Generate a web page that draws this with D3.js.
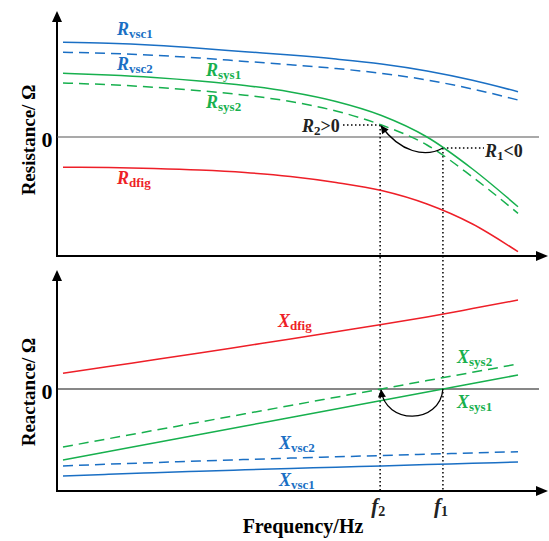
<!DOCTYPE html>
<html>
<head>
<meta charset="utf-8">
<script src="https://cdn.jsdelivr.net/npm/d3@7"></script>
<style>
  html, body { margin: 0; padding: 0; background: #fff; }
  svg { display: block; }
  text { font-family: "Liberation Serif", "Times New Roman", serif; font-weight: bold; }
</style>
</head>
<body>
<svg id="chart" width="549" height="541"></svg>
<script>
// ---------------- data ----------------
const freq = [0, 10, 20, 30, 40, 50, 60, 70, 80, 90, 100];

// Resistance (top panel)
const Rvsc1 = [9.47, 9.37, 9.17, 8.88, 8.53, 8.19, 7.79, 7.30, 6.60, 5.67, 4.53];
const Rvsc2 = [8.47, 8.37, 8.18, 7.90, 7.56, 7.23, 6.85, 6.37, 5.70, 4.80, 3.70];
const Rsys1 = [6.37, 6.20, 5.95, 5.60, 5.15, 4.50, 3.55, 2.15, 0.00, -3.20, -6.97];
const Rsys2 = [5.40, 5.23, 4.98, 4.63, 4.18, 3.55, 2.60, 1.20, -0.80, -4.00, -7.63];
const Rdfig = [-3.03, -3.06, -3.15, -3.30, -3.55, -3.95, -4.55, -5.35, -6.70, -8.70, -11.47];

// Reactance (bottom panel)
const Xdfig = [1.57, 2.25, 2.92, 3.60, 4.30, 5.00, 5.72, 6.44, 7.20, 8.04, 8.90];
const Xsys2 = [-5.80, -4.97, -4.14, -3.31, -2.48, -1.65, -0.82, 0.01, 0.84, 1.67, 2.50];
const Xsys1 = [-7.10, -6.25, -5.40, -4.55, -3.70, -2.85, -2.00, -1.15, -0.30, 0.55, 1.40];
const Xvsc2 = [-7.70, -7.52, -7.36, -7.20, -7.05, -6.91, -6.78, -6.65, -6.52, -6.40, -6.27];
const Xvsc1 = [-8.70, -8.53, -8.37, -8.22, -8.08, -7.95, -7.82, -7.69, -7.56, -7.43, -7.30];

// resonance markers
const markerNames = ["f2", "f1"];
const markerFreq = [69.7, 83.5];
const markerR = [1.2, -1.1];          // R2 > 0 , R1 < 0

const zeroTick = ["0"];

// ---------------- styles ----------------
const BLUE = "#1a6fc4", GREEN = "#17b04e", RED = "#ee1f28";

const svg = d3.select("#chart");

const x = d3.scaleLinear().domain([0, 100]).range([63, 518]);
const yR = d3.scaleLinear().domain([0, 10]).range([137, 37]);
const yX = d3.scaleLinear().domain([0, 10]).range([389, 289]);

// arrow markers
const defs = svg.append("defs");
defs.append("marker").attr("id", "ah")
  .attr("viewBox", "0 0 10 10").attr("refX", 9).attr("refY", 5)
  .attr("markerWidth", 10).attr("markerHeight", 8).attr("markerUnits", "userSpaceOnUse")
  .attr("orient", "auto")
  .append("path").attr("d", "M0,0 L10,5 L0,10 Z").attr("fill", "#000");

// -------- axes frames --------
function frame(top, bottom) {
  const g = svg.append("g");
  const axX = 57;
  g.append("line").attr("x1", axX).attr("y1", bottom).attr("x2", axX).attr("y2", top + 8)
    .attr("stroke", "#000").attr("stroke-width", 2);
  g.append("path").attr("d", `M${axX},${top} L${axX - 5},${top + 11} L${axX + 5},${top + 11} Z`).attr("fill", "#000");
  g.append("line").attr("x1", axX - 1).attr("y1", bottom).attr("x2", 540).attr("y2", bottom)
    .attr("stroke", "#000").attr("stroke-width", 2);
  g.append("path").attr("d", `M548,${bottom} L536,${bottom - 5} L536,${bottom + 5} Z`).attr("fill", "#000");
}
frame(11, 256);
frame(270, 491);

// zero lines
svg.append("line").attr("x1", 57).attr("x2", 539).attr("y1", yR(0)).attr("y2", yR(0))
  .attr("stroke", "#555").attr("stroke-width", 1.2);
svg.append("line").attr("x1", 57).attr("x2", 539).attr("y1", yX(0)).attr("y2", yX(0))
  .attr("stroke", "#111").attr("stroke-width", 1.2);

// zero tick labels
svg.append("text").attr("x", 47).attr("y", yR(0) + 10).attr("text-anchor", "middle")
  .attr("font-size", 22).text(zeroTick[0]);
svg.append("text").attr("x", 47).attr("y", yX(0) + 10).attr("text-anchor", "middle")
  .attr("font-size", 22).text(zeroTick[0]);

// axis titles
svg.append("text").attr("transform", `translate(35,${140}) rotate(-90)`).attr("text-anchor", "middle")
  .attr("font-size", 19).text("Resistance/ Ω");
svg.append("text").attr("transform", `translate(35,${392}) rotate(-90)`).attr("text-anchor", "middle")
  .attr("font-size", 19).text("Reactance/ Ω");
svg.append("text").attr("x", 303).attr("y", 533).attr("text-anchor", "middle")
  .attr("font-size", 20).text("Frequency/Hz");

// -------- dotted guides --------
const dot = { stroke: "#000", "stroke-width": 1.5, "stroke-dasharray": "1.5,2.5" };
function dline(x1, y1, x2, y2) {
  const l = svg.append("line").attr("x1", x1).attr("y1", y1).attr("x2", x2).attr("y2", y2);
  Object.entries(dot).forEach(([k, v]) => l.attr(k, v));
}
markerFreq.forEach((f, i) => dline(x(f), yR(markerR[i]), x(f), 491));
dline(343, yR(markerR[0]), x(markerFreq[0]), yR(markerR[0]));
dline(x(markerFreq[1]), yR(markerR[1]), 484, yR(markerR[1]));

// -------- curves --------
const line = (ys, yScale) => d3.line().x((d, i) => x(freq[i])).y(d => yScale(d)).curve(d3.curveMonotoneX)(ys);
const series = [
  { v: Rvsc1, s: yR, c: BLUE, dash: null },
  { v: Rvsc2, s: yR, c: BLUE, dash: "10,6" },
  { v: Rsys1, s: yR, c: GREEN, dash: null },
  { v: Rsys2, s: yR, c: GREEN, dash: "10,6" },
  { v: Rdfig, s: yR, c: RED, dash: null },
  { v: Xdfig, s: yX, c: RED, dash: null },
  { v: Xsys2, s: yX, c: GREEN, dash: "10,6" },
  { v: Xsys1, s: yX, c: GREEN, dash: null },
  { v: Xvsc2, s: yX, c: BLUE, dash: "10,6" },
  { v: Xvsc1, s: yX, c: BLUE, dash: null },
];
series.forEach(d => {
  svg.append("path").attr("d", line(d.v, d.s)).attr("fill", "none")
    .attr("stroke", d.c).attr("stroke-width", 1.5)
    .attr("stroke-dasharray", d.dash);
});

// -------- curved arrows --------
const f2x = x(markerFreq[0]), f1x = x(markerFreq[1]);
svg.append("path")
  .attr("d", `M${f1x},${yR(markerR[1])} C${f1x - 18},${yR(markerR[1]) + 10} ${f2x + 20},${yR(markerR[1]) + 4} ${f2x + 1},${yR(markerR[0]) + 1}`)
  .attr("fill", "none").attr("stroke", "#000").attr("stroke-width", 1.3).attr("marker-end", "url(#ah)");
svg.append("path")
  .attr("d", `M${f1x},${yX(0)} C${f1x - 3},${yX(0) + 36} ${f2x + 5},${yX(0) + 36} ${f2x + 1},${yX(0) + 1}`)
  .attr("fill", "none").attr("stroke", "#000").attr("stroke-width", 1.3).attr("marker-end", "url(#ah)");

// -------- labels --------
function label(xp, yp, main, sub, color, rest) {
  const t = svg.append("text").attr("x", xp).attr("y", yp).attr("fill", color).attr("font-size", 18);
  t.append("tspan").attr("font-style", "italic").text(main);
  t.append("tspan").attr("font-size", 13).attr("dy", 3).text(sub);
  if (rest) t.append("tspan").attr("dy", -3).attr("font-size", 18).text(rest);
  return t;
}
label(117, 35, "R", "vsc1", BLUE);
label(117, 70, "R", "vsc2", BLUE);
label(206, 76, "R", "sys1", GREEN);
label(206, 108, "R", "sys2", GREEN);
label(117, 184, "R", "dfig", RED);
label(278, 327, "X", "dfig", RED);
label(457, 363, "X", "sys2", GREEN);
label(457, 408, "X", "sys1", GREEN);
label(279, 449, "X", "vsc2", BLUE);
label(279, 486, "X", "vsc1", BLUE);
label(302, 132, "R", "2", "#222", ">0");
label(485, 157, "R", "1", "#222", "<0");

// frequency marker labels
markerFreq.forEach((f, i) => {
  const t = svg.append("text").attr("x", x(f) - 9).attr("y", 513).attr("font-size", 21).attr("fill", "#222");
  t.append("tspan").attr("font-style", "italic").text(markerNames[i][0]);
  t.append("tspan").attr("font-size", 14).attr("dy", 3).text(markerNames[i].slice(1));
});
</script>
</body>
</html>
